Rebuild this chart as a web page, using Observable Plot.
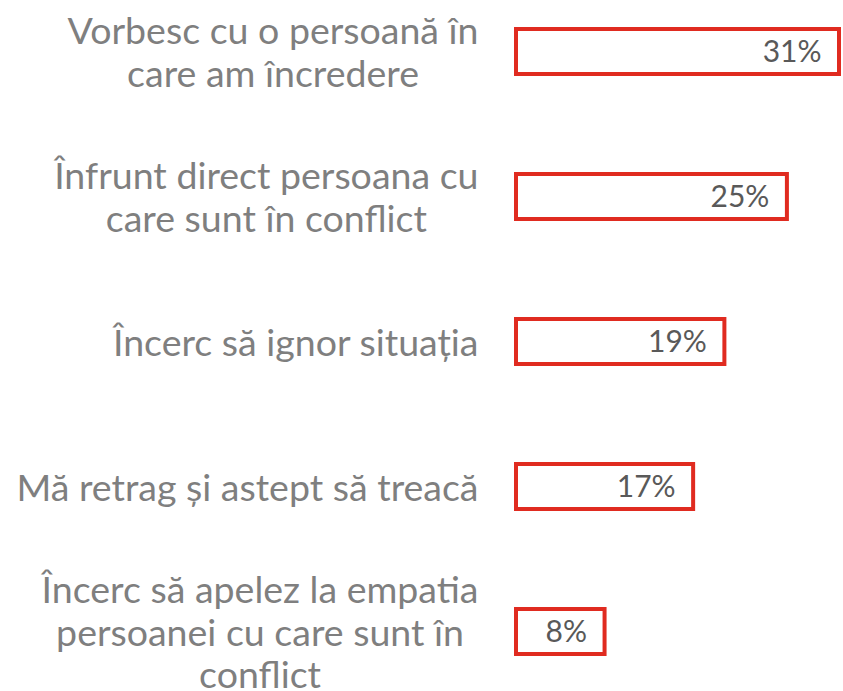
<!DOCTYPE html>
<html><head><meta charset="utf-8">
<script src="https://cdn.jsdelivr.net/npm/d3@7"></script>
<script src="https://cdn.jsdelivr.net/npm/@observablehq/plot@0.6"></script>
<style>body{margin:0;background:#fff;} svg{overflow:visible}</style>
</head><body><div id="chart"></div>
<script>
const categories = [
  "Vorbesc cu o persoană în\ncare am încredere",
  "Înfrunt direct persoana cu\ncare sunt în conflict",
  "Încerc să ignor situația",
  "Mă retrag și astept să treacă",
  "Încerc să apelez la empatia\npersoanei cu care sunt în\nconflict"
];
// bar lengths
const values = [31, 26, 20, 17, 8.5];
const valueLabels = ["31%", "25%", "19%", "17%", "8%"];
const data = categories.map((c, i) => ({category: c, value: values[i], label: valueLabels[i]}));

const chart = Plot.plot({
  width: 843, height: 691,
  marginLeft: 516, marginRight: 4, marginTop: 28.5, marginBottom: 37.5,
  x: {domain: [0, 31], axis: null},
  y: {domain: categories, paddingInner: 0.69, paddingOuter: 0, axis: null},
  style: {fontFamily: "Lato", background: "white"},
  marks: [
    Plot.barX(data, {x: "value", y: "category", fill: "white", stroke: "#e02b20", strokeWidth: 4}),
    Plot.text(data, {x: "value", y: "category", text: "label", textAnchor: "end", dx: -18, fontSize: 30, fill: "#595959"}),
    Plot.text(data, {x: 0, y: "category", text: "category", textAnchor: "end", dx: -38, fontSize: 37.5, lineHeight: 1.13, fill: "#7f7f7f", className: "catlabel"})
  ]
});
document.getElementById("chart").appendChild(chart);
// center lines within each multi-line label block, keeping the block right-aligned
chart.querySelectorAll(".catlabel text").forEach(t => {
  const spans = t.querySelectorAll("tspan");
  if (spans.length < 2) return;
  let maxW = 0;
  spans.forEach(s => { maxW = Math.max(maxW, s.getComputedTextLength()); });
  t.setAttribute("text-anchor", "middle");
  t.setAttribute("transform", (t.getAttribute("transform") || "") + ` translate(${-maxW / 2},0)`);
});
</script>
</body></html>
